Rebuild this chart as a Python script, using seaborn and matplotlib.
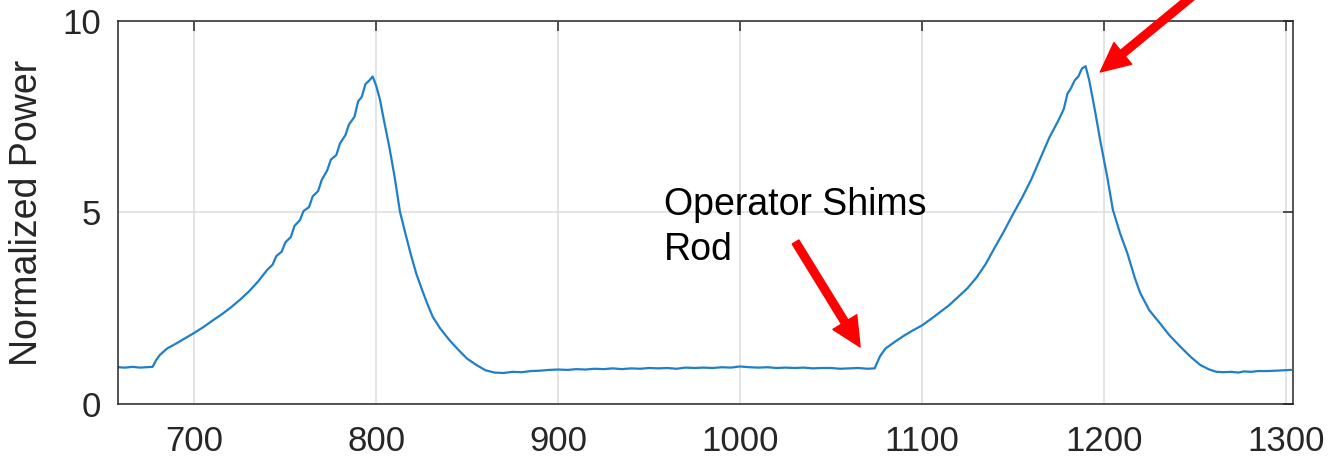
import matplotlib
matplotlib.use("Agg")
import matplotlib.pyplot as plt
import seaborn as sns
import pandas as pd

# Reactor power trace: time step vs. normalized power
time_steps = [
    658, 662, 666, 670, 674, 677, 679, 681, 685, 690, 695, 700, 705, 710, 715,
    720, 725, 730, 735, 740, 743, 745, 748, 750, 753, 755, 758, 760, 763, 765,
    768, 770, 773, 775, 778, 780, 783, 785, 788, 790, 792, 794, 796, 798, 800,
    802, 804, 807, 810, 813, 816, 819, 822, 825, 828, 831, 835, 840, 845, 850,
    855, 860, 865, 870, 875, 880, 885, 890, 895, 900, 905, 910, 915, 920, 925,
    930, 935, 940, 945, 950, 955, 960, 965, 970, 975, 980, 985, 990, 995, 1000,
    1005, 1010, 1015, 1020, 1025, 1030, 1035, 1040, 1045, 1050, 1055, 1060,
    1065, 1070, 1074, 1077, 1080, 1085, 1090, 1095, 1100, 1105, 1110, 1115,
    1120, 1125, 1130, 1135, 1140, 1145, 1150, 1155, 1160, 1165, 1170, 1175,
    1178, 1180, 1182, 1184, 1186, 1188, 1190, 1192, 1195, 1198, 1202, 1205,
    1209, 1213, 1217, 1220, 1225, 1231, 1236, 1242, 1248, 1253, 1258, 1262,
    1266, 1270, 1274, 1277, 1281, 1285, 1290, 1295, 1299, 1303,
]
normalized_power = [
    0.96, 0.95, 0.97, 0.95, 0.96, 0.97, 1.15, 1.28, 1.45, 1.58, 1.72, 1.86,
    2.01, 2.18, 2.34, 2.52, 2.72, 2.94, 3.20, 3.50, 3.64, 3.86, 3.98, 4.22,
    4.36, 4.65, 4.80, 5.04, 5.14, 5.42, 5.56, 5.85, 6.10, 6.38, 6.50, 6.80,
    7.02, 7.30, 7.50, 7.90, 8.02, 8.35, 8.44, 8.55, 8.30, 7.95, 7.45, 6.75,
    5.95, 5.02, 4.45, 3.90, 3.40, 3.00, 2.62, 2.28, 1.98, 1.68, 1.42, 1.18,
    1.02, 0.88, 0.82, 0.81, 0.84, 0.83, 0.86, 0.87, 0.89, 0.90, 0.89, 0.91,
    0.90, 0.92, 0.91, 0.93, 0.91, 0.93, 0.92, 0.94, 0.93, 0.94, 0.92, 0.95,
    0.94, 0.95, 0.94, 0.96, 0.95, 0.98, 0.96, 0.95, 0.96, 0.94, 0.95, 0.94,
    0.95, 0.93, 0.94, 0.94, 0.92, 0.93, 0.94, 0.92, 0.93, 1.25, 1.45, 1.62,
    1.78, 1.92, 2.05, 2.22, 2.40, 2.58, 2.80, 3.02, 3.30, 3.65, 4.08, 4.50,
    4.95, 5.38, 5.85, 6.40, 6.95, 7.40, 7.70, 8.10, 8.25, 8.45, 8.55, 8.76,
    8.82, 8.45, 7.70, 6.89, 5.90, 5.07, 4.45, 3.93, 3.30, 2.90, 2.45, 2.10,
    1.80, 1.50, 1.22, 1.02, 0.90, 0.84, 0.83, 0.84, 0.82, 0.85, 0.84, 0.86,
    0.86, 0.87, 0.88, 0.89,
]

x_ticks = [700, 800, 900, 1000, 1100, 1200, 1300]
y_ticks = [0, 5, 10]
y_label = "Normalized Power"
note_text = "Operator Shims\nRod"

sns.set_style("white")
plt.rcParams["font.family"] = ["Liberation Sans", "DejaVu Sans"]

ink = "#262626"
fig = plt.figure(figsize=(13.31, 4.74), dpi=100)
ax = fig.add_axes([0.0887, 0.1477, 0.8827, 0.808])

df = pd.DataFrame({"step": time_steps, "power": normalized_power})
sns.lineplot(data=df, x="step", y="power", ax=ax, color="#1f7fc8",
             linewidth=1.6, sort=False)

ax.set_xlim(658, 1304)
ax.set_ylim(0, 10)
ax.set_xticks(x_ticks)
ax.set_yticks(y_ticks)
ax.set_xlabel("")
ax.set_ylabel(y_label, fontsize=27, color=ink)
ax.yaxis.set_label_coords(-0.062, 0.5)

ax.grid(True, color="#dcdcdc", linewidth=1.1)
ax.set_axisbelow(True)
for side in ["left", "right", "top", "bottom"]:
    ax.spines[side].set_visible(True)
    ax.spines[side].set_color(ink)
    ax.spines[side].set_linewidth(1.1)

ax.tick_params(axis="both", which="major", direction="in", length=7,
               width=1.1, color=ink, labelcolor=ink, labelsize=25,
               top=True, right=True)
ax.tick_params(axis="x", pad=15)
ax.tick_params(axis="y", pad=12)

ax.text(958, 5.66, note_text, fontsize=27, color="black", va="top",
        ha="left", linespacing=1.32)

arrow_style = "simple,head_length=0.75,head_width=0.72,tail_width=0.2"
ax.annotate("", xy=(1066, 1.49), xytext=(1030.5, 4.23),
            arrowprops=dict(arrowstyle=arrow_style, color="red",
                            mutation_scale=28, shrinkA=0, shrinkB=0))
ax.annotate("", xy=(1198.1, 8.67), xytext=(1250, 10.7),
            annotation_clip=False,
            arrowprops=dict(arrowstyle=arrow_style, color="red",
                            mutation_scale=28, shrinkA=0, shrinkB=0,
                            clip_on=False))

fig.savefig("out.png", dpi=100)
